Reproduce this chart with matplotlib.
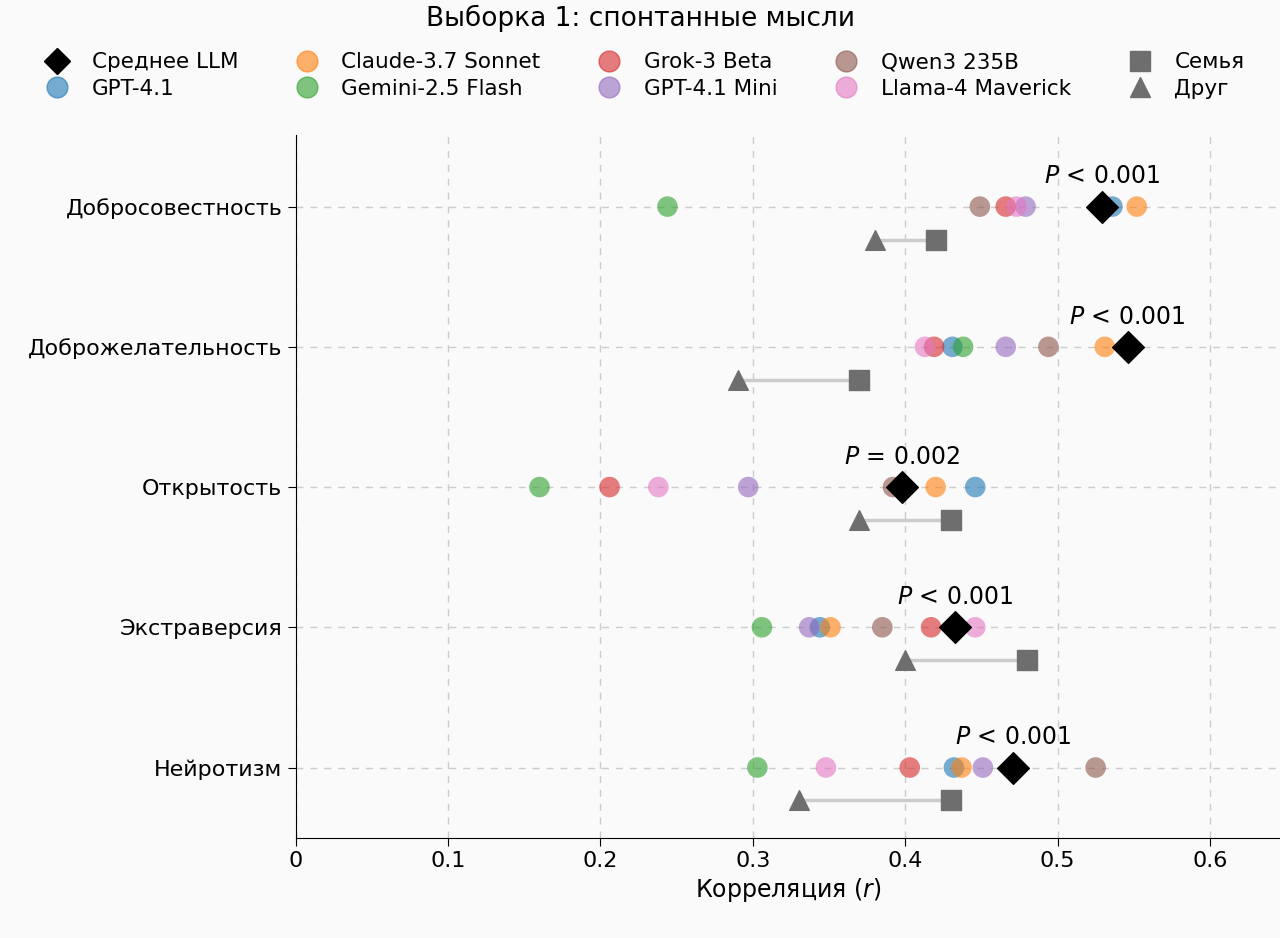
import matplotlib.pyplot as pp
import numpy as np

from matplotlib.lines import Line2D
from matplotlib.ticker import MultipleLocator


TRAITS = ['Доброжелательность', 'Добросовестность', 'Открытость', 'Экстраверсия', 'Нейротизм']
TRAITS = ['Добросовестность', 'Доброжелательность', 'Открытость', 'Экстраверсия', 'Нейротизм']

MODELS = ['GPT-4.1', 'Claude-3.7 Sonnet', 'Gemini-2.5 Flash', 'Grok-3 Beta',
          'GPT-4.1 Mini', 'Qwen3 235B', 'Llama-4 Maverick']

# "tab10"-like colors, one per model
COLORS = ['#1f77b4', '#ff7f0e', '#2ca02c', '#d62728', '#9467bd', '#8c564b', '#e377c2']

# Model correlations, per trait (same order as TRAITS)
gpt41      = [0.536, 0.431, 0.446, 0.344, 0.432]
claude     = [0.552, 0.531, 0.420, 0.351, 0.437]
gemini     = [0.244, 0.438, 0.160, 0.306, 0.303]
grok       = [0.466, 0.419, 0.206, 0.417, 0.403]
gpt41_mini = [0.479, 0.466, 0.297, 0.337, 0.451]
qwen       = [0.449, 0.494, 0.392, 0.385, 0.525]
llama      = [0.473, 0.413, 0.238, 0.446, 0.348]
llm_mean   = [0.529, 0.546, 0.398, 0.433, 0.471]

family = [0.42, 0.37, 0.43, 0.48, 0.43]
friend = [0.38, 0.29, 0.37, 0.40, 0.33]

p_labels = ['$P$ < 0.001', '$P$ < 0.001', '$P$ = 0.002', '$P$ < 0.001', '$P$ < 0.001']


def make_plot():
    model_values = [gpt41, claude, gemini, grok, gpt41_mini, qwen, llama]
    y = np.arange(len(TRAITS))[::-1].astype(float)
    offset = 0.235 # Human raters sit a little under each trait row

    fig = pp.figure(figsize=(12.8, 9.38), dpi=100, facecolor='#fafafa')
    ax = fig.add_axes([0.231, 0.107, 0.769, 0.749], facecolor='#fafafa')

    # Human raters: friend -> family
    for yi, fr, fa in zip(y, friend, family):
        ax.plot([fr, fa], [yi - offset] * 2, color='#cccccc', lw=2.5, zorder=1)
    ax.scatter(family, y - offset, marker='s', s=200, color='#6e6e6e', zorder=3)
    ax.scatter(friend, y - offset, marker='^', s=200, color='#6e6e6e', zorder=3)

    # Models
    for values, color in zip(model_values, COLORS):
        ax.scatter(values, y, s=220, color=color, alpha=0.6, edgecolors='none', zorder=2)
    ax.scatter(llm_mean, y, marker='D', s=260, color='black', zorder=4)

    for yi, xm, label in zip(y, llm_mean, p_labels):
        ax.text(xm, yi + 0.13, label, ha='center', va='bottom', fontsize=17)

    # Legend
    handles = [Line2D([], [], marker='D', ls='', color='black', markersize=13)]
    labels = ['Среднее LLM']
    for name, color in zip(MODELS, COLORS):
        handles.append(Line2D([], [], marker='o', ls='', color=color, alpha=0.6, markersize=15))
        labels.append(name)
    handles += [Line2D([], [], marker='s', ls='', color='#6e6e6e', markersize=14),
                Line2D([], [], marker='^', ls='', color='#6e6e6e', markersize=14)]
    labels += ['Семья', 'Друг']
    fig.legend(handles, labels, ncol=5, frameon=False, loc='upper center',
               bbox_to_anchor=(0.5, 0.965), fontsize=15.5, columnspacing=2.2,
               handletextpad=0.6, labelspacing=0.3)
    fig.suptitle('Выборка 1: спонтанные мысли', fontsize=19, y=0.995)

    # x-axis
    ax.set_xlim(0, 0.646)
    ax.xaxis.set_major_locator(MultipleLocator(0.1))
    ax.set_xticks(np.arange(0, 0.61, 0.1), ['0', '0.1', '0.2', '0.3', '0.4', '0.5', '0.6'])
    ax.set_xlabel('Корреляция ($r$)', fontsize=17)

    # y-axis
    ax.set_ylim(-0.5, 4.51)
    ax.set_yticks(y, TRAITS)
    ax.tick_params(labelsize=16, length=6)
    ax.grid(True, ls=(0, (5, 5)), color='#cccccc', lw=1)
    ax.set_axisbelow(True)
    for side in ['top', 'right']:
        ax.spines[side].set_visible(False)

    pp.savefig('out.png', dpi=100, facecolor=fig.get_facecolor())

if __name__ == '__main__':
    make_plot()
